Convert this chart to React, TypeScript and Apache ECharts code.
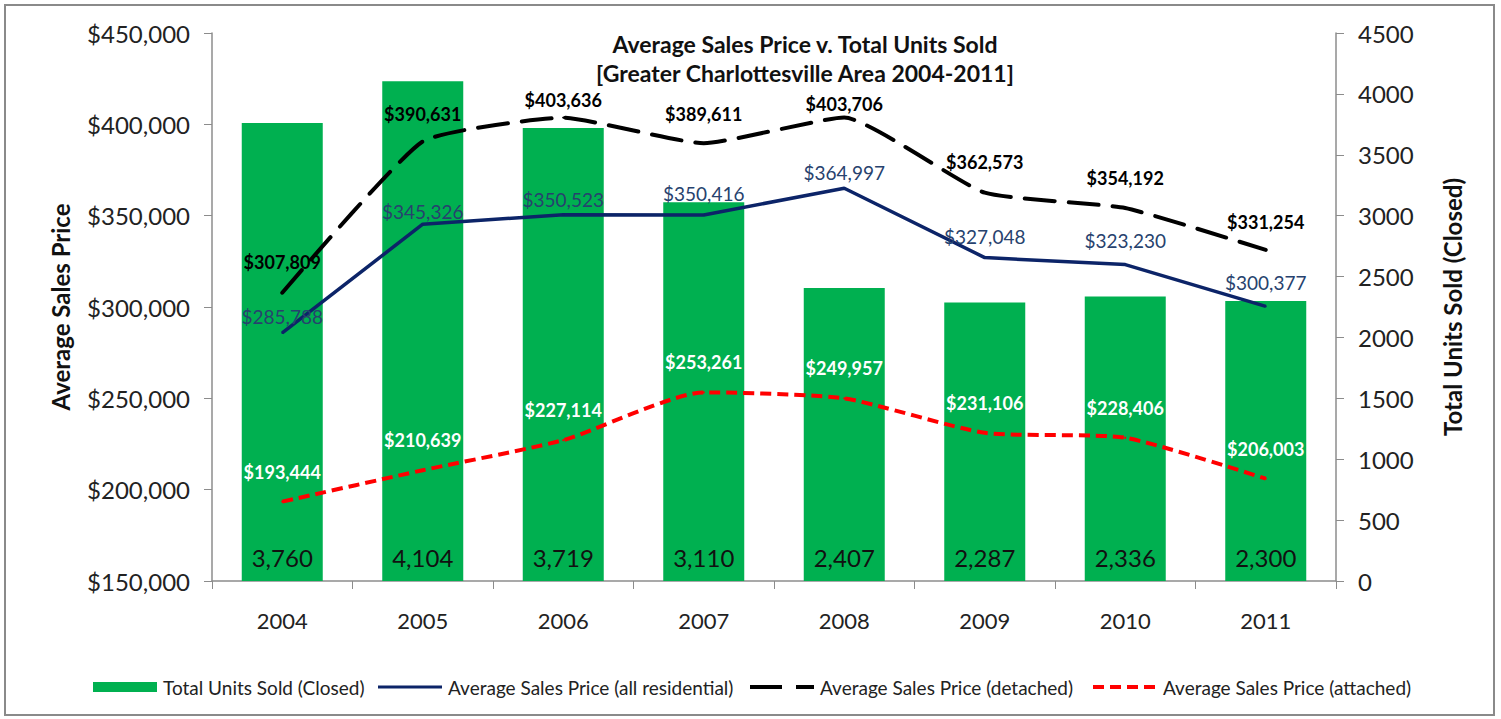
import React, { useEffect, useRef } from "react";
import * as echarts from "echarts";

const years = ["2004", "2005", "2006", "2007", "2008", "2009", "2010", "2011"];
const unitsSold = [3760, 4104, 3719, 3110, 2407, 2287, 2336, 2300];
const priceAll = [285788, 345326, 350523, 350416, 364997, 327048, 323230, 300377];
const priceDetached = [307809, 390631, 403636, 389611, 403706, 362573, 354192, 331254];
const priceAttached = [193444, 210639, 227114, 253261, 249957, 231106, 228406, 206003];
const seriesNames = [
  "Total Units Sold (Closed)",
  "Average Sales Price (all residential)",
  "Average Sales Price (detached)",
  "Average Sales Price (attached)",
];

// label gaps above each point (styling only)
const detachedLabelGap = [21, 17, 8, 19, 4, 21, 20, 18];
const allLabelGap = [6, 2, 5, 11, 5, 11, 14, 13];
const attachedLabelGap = [20, 20, 20, 20, 20, 20, 20, 20];

const FONT = "Lato, 'Open Sans', sans-serif";
const money = (v: number) => "$" + Number(v).toLocaleString("en-US");

const GREEN = "#00b050";
const NAVY = "#0c2468";
const RED = "#ff0000";

export default function App() {
  const ref = useRef<HTMLDivElement>(null);
  useEffect(() => {
    if (!ref.current) return;
    const chart = echarts.init(ref.current, undefined, { renderer: "svg" });
    const withGap = (vals: number[], gaps: number[]) =>
      vals.map((v, i) => ({ value: v, label: { distance: gaps[i] } }));

    // custom legend layout
    const legendX = [93, 378, 750, 1093];
    const legendY = 687;
    const iconW = 64;
    const legendTexts = seriesNames.map((n, i) => ({
      type: "text",
      x: legendX[i] + iconW + 6,
      y: legendY,
      style: { text: n, font: "19px " + FONT, fill: "#222", verticalAlign: "middle", align: "left" },
      silent: true,
    }));
    const legendIcons: any[] = [
      {
        type: "rect",
        shape: { x: legendX[0], y: legendY - 5, width: iconW, height: 10 },
        style: { fill: GREEN },
        silent: true,
      },
      {
        type: "line",
        shape: { x1: legendX[1], y1: legendY, x2: legendX[1] + iconW, y2: legendY },
        style: { stroke: NAVY, lineWidth: 3 },
        silent: true,
      },
      {
        type: "line",
        shape: { x1: legendX[2], y1: legendY, x2: legendX[2] + iconW, y2: legendY },
        style: { stroke: "#000", lineWidth: 4, lineDash: [32, 14] },
        silent: true,
      },
      {
        type: "line",
        shape: { x1: legendX[3], y1: legendY, x2: legendX[3] + iconW, y2: legendY },
        style: { stroke: RED, lineWidth: 4, lineDash: [11, 6] },
        silent: true,
      },
    ];

    chart.setOption({
      animation: false,
      backgroundColor: "#ffffff",
      textStyle: { fontFamily: FONT },
      title: {
        text: "Average Sales Price v. Total Units Sold\n[Greater Charlottesville Area 2004-2011]",
        left: 800,
        top: 24,
        textAlign: "center",
        textStyle: { fontSize: 23, fontWeight: "bold", color: "#111", lineHeight: 29, fontFamily: FONT },
      },
      graphic: [
        {
          type: "rect",
          shape: { x: 5, y: 5, width: 1489, height: 710 },
          style: { fill: "none", stroke: "#8a8a8a", lineWidth: 2 },
          silent: true,
        },
        ...legendIcons,
        ...legendTexts,
      ],
      grid: { left: 212, right: 165, top: 33, bottom: 138 },
      xAxis: {
        type: "category",
        data: years,
        axisLine: { lineStyle: { color: "#8c8c8c", width: 1.5 } },
        axisTick: { show: true, length: 8, lineStyle: { color: "#8c8c8c" } },
        axisLabel: { fontSize: 22, color: "#222", margin: 28 },
      },
      yAxis: [
        {
          type: "value",
          min: 150000,
          max: 450000,
          interval: 50000,
          name: "Average Sales Price",
          nameLocation: "middle",
          nameGap: 140,
          nameRotate: 90,
          nameTextStyle: { fontSize: 24, fontWeight: "bold", color: "#111" },
          axisLine: { show: true, lineStyle: { color: "#8c8c8c", width: 1.5 } },
          axisTick: { show: true, length: 8, lineStyle: { color: "#8c8c8c" } },
          axisLabel: { fontSize: 24, color: "#222", margin: 22, formatter: (v: number) => money(v) },
          splitLine: { show: false },
        },
        {
          type: "value",
          min: 0,
          max: 4500,
          interval: 500,
          name: "Total Units Sold (Closed)",
          nameLocation: "middle",
          nameGap: 104,
          nameRotate: 90,
          nameTextStyle: { fontSize: 24, fontWeight: "bold", color: "#111" },
          axisLine: { show: true, lineStyle: { color: "#8c8c8c", width: 1.5 } },
          axisTick: { show: true, length: 8, lineStyle: { color: "#8c8c8c" } },
          axisLabel: { fontSize: 24, color: "#222", margin: 22, formatter: (v: number) => String(v) },
          splitLine: { show: false },
        },
      ],
      series: [
        {
          name: seriesNames[0],
          type: "bar",
          yAxisIndex: 1,
          data: unitsSold,
          barWidth: 81,
          itemStyle: { color: GREEN },
          label: {
            show: true,
            position: "insideBottom",
            distance: 12,
            fontSize: 24,
            color: "#111",
            formatter: (p: any) => Number(p.value).toLocaleString("en-US"),
          },
        },
        {
          name: seriesNames[1],
          type: "line",
          yAxisIndex: 0,
          data: withGap(priceAll, allLabelGap),
          symbol: "circle",
          symbolSize: 2,
          showSymbol: true,
          lineStyle: { color: NAVY, width: 3.5 },
          itemStyle: { color: NAVY },
          label: {
            show: true,
            position: "top",
            fontSize: 19,
            color: "#27426e",
            formatter: (p: any) => money(p.value),
          },
          z: 3,
        },
        {
          name: seriesNames[2],
          type: "line",
          yAxisIndex: 0,
          data: withGap(priceDetached, detachedLabelGap),
          symbol: "circle",
          symbolSize: 2,
          showSymbol: true,
          smooth: 0.15,
          lineStyle: { color: "#000000", width: 4, type: [30, 14], cap: "round" },
          itemStyle: { color: "#000000" },
          label: {
            show: true,
            position: "top",
            fontSize: 18,
            fontWeight: "bold",
            color: "#000",
            formatter: (p: any) => money(p.value),
          },
          z: 4,
        },
        {
          name: seriesNames[3],
          type: "line",
          yAxisIndex: 0,
          data: withGap(priceAttached, attachedLabelGap),
          symbol: "circle",
          symbolSize: 2,
          showSymbol: true,
          smooth: 0.2,
          lineStyle: { color: RED, width: 4, type: [11, 6] },
          itemStyle: { color: RED },
          label: {
            show: true,
            position: "top",
            fontSize: 18,
            fontWeight: "bold",
            color: "#ffffff",
            formatter: (p: any) => money(p.value),
          },
          z: 5,
        },
      ],
    });
    return () => chart.dispose();
  }, []);
  return (
    <div
      ref={ref}
      style={{ position: "absolute", left: 0, top: 0, width: 1501, height: 719 }}
    />
  );
}
